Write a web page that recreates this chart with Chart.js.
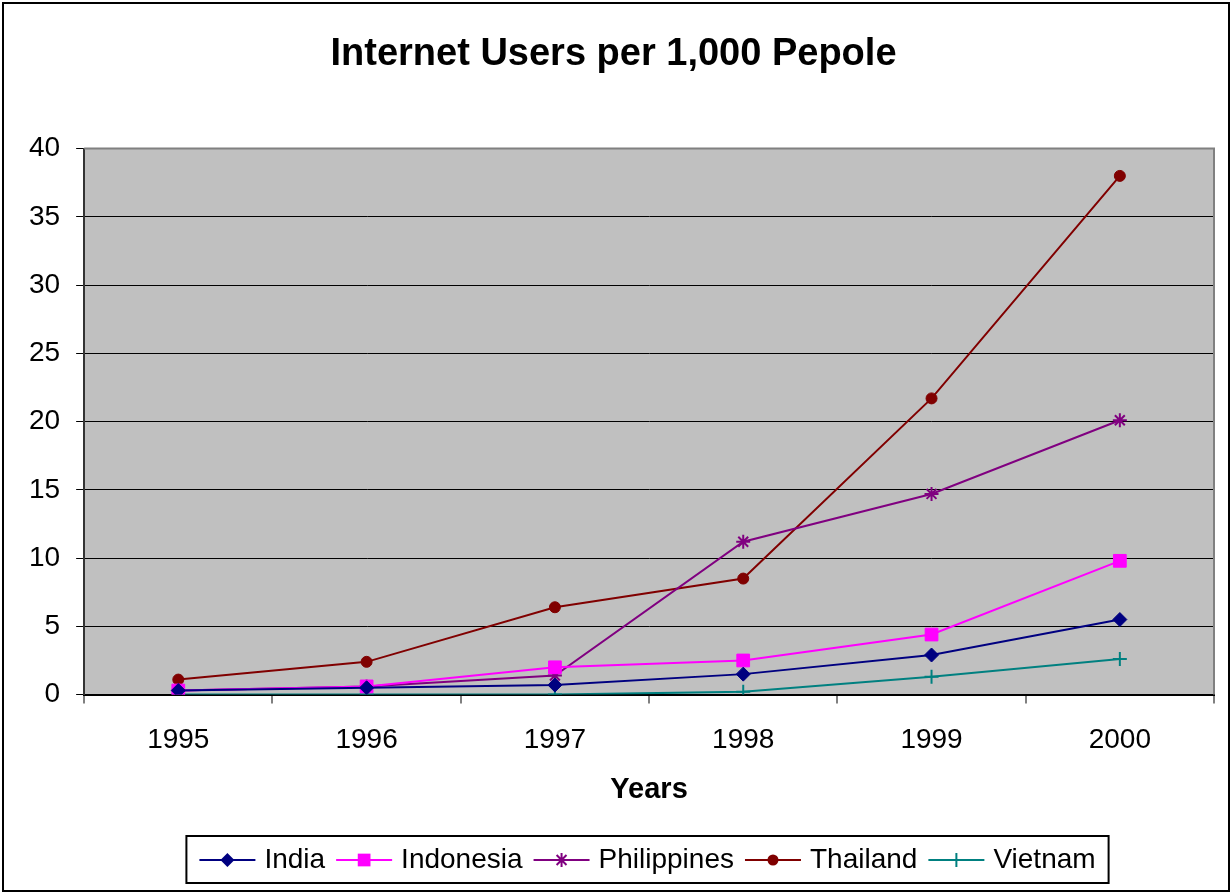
<!DOCTYPE html>
<html>
<head>
<meta charset="utf-8">
<script src="https://cdn.jsdelivr.net/npm/chart.js@4/dist/chart.umd.min.js"></script>
<style>
  html, body { margin: 0; padding: 0; background: #fff; }
  #wrap { position: absolute; left: 2px; top: 2px; width: 1224px; height: 886px; border: 2px solid #000; }
  canvas { display: block; }
</style>
</head>
<body>
<div id="wrap"><canvas id="users-chart" width="1224" height="886"></canvas></div>
<script>
// (per 1,000 people)
var years = ["1995", "1996", "1997", "1998", "1999", "2000"];
var india = [0.3, 0.5, 0.7, 1.5, 2.9, 5.5];
var indonesia = [0.3, 0.6, 2.0, 2.5, 4.4, 9.8];
var philippines = [0.3, 0.6, 1.4, 11.2, 14.7, 20.1];
var thailand = [1.1, 2.4, 6.4, 8.5, 21.7, 38.0];
var vietnam = [0.0, 0.0, 0.0, 0.2, 1.3, 2.6];

var font = "'Liberation Sans', Arial, sans-serif";

function series(label, data, color, style, radius) {
  return {
    label: label,
    data: data,
    borderColor: color,
    backgroundColor: color,
    borderWidth: 2,
    pointStyle: style,
    pointRadius: radius,
    pointBorderWidth: style === "star" || style === "cross" ? 2 : 1,
    pointHoverRadius: radius,
    tension: 0,
  };
}

function drawMarker(ctx, style, x, y, r, color) {
  var s = r * Math.SQRT1_2;
  ctx.fillStyle = color;
  ctx.strokeStyle = color;
  ctx.lineWidth = 2;
  ctx.beginPath();
  if (style === "rectRot") {
    ctx.moveTo(x, y - r); ctx.lineTo(x + r, y); ctx.lineTo(x, y + r); ctx.lineTo(x - r, y);
    ctx.closePath(); ctx.fill();
  } else if (style === "rect") {
    ctx.rect(x - s, y - s, s * 2, s * 2); ctx.fill();
  } else if (style === "circle") {
    ctx.arc(x, y, r, 0, Math.PI * 2); ctx.fill();
  } else if (style === "cross") {
    ctx.moveTo(x - r, y); ctx.lineTo(x + r, y); ctx.moveTo(x, y - r); ctx.lineTo(x, y + r); ctx.stroke();
  } else if (style === "star") {
    ctx.moveTo(x - s, y - s); ctx.lineTo(x + s, y + s);
    ctx.moveTo(x + s, y - s); ctx.lineTo(x - s, y + s);
    ctx.moveTo(x, y - r); ctx.lineTo(x, y + r);
    ctx.moveTo(x - r, y); ctx.lineTo(x + r, y);
    ctx.stroke();
  }
}

var LEGEND_SHIFT = 34; // legend box sits a bit right of centre in the original
var LINE_LEN = 56;

// grey plot area, grey frame, legend line+marker samples and legend box
var plotDecor = {
  id: "plotDecor",
  afterLayout: function (chart) {
    chart.legend.left += LEGEND_SHIFT;
    chart.legend.right += LEGEND_SHIFT;
  },
  beforeDraw: function (chart) {
    var a = chart.chartArea;
    var ctx = chart.ctx;
    ctx.save();
    ctx.fillStyle = "#C0C0C0";
    ctx.fillRect(a.left, a.top, a.right - a.left, a.bottom - a.top);
    ctx.restore();
  },
  afterDraw: function (chart) {
    var a = chart.chartArea;
    var ctx = chart.ctx;
    ctx.save();
    ctx.strokeStyle = "#808080";
    ctx.lineWidth = 2;
    ctx.beginPath();
    ctx.moveTo(a.left, a.top);
    ctx.lineTo(a.right, a.top);
    ctx.lineTo(a.right, a.bottom);
    ctx.stroke();

    var legend = chart.legend;
    var boxes = legend.legendHitBoxes;
    boxes.forEach(function (b, i) {
      var ds = chart.data.datasets[i];
      var cy = b.top + b.height / 2;
      ctx.strokeStyle = ds.borderColor;
      ctx.lineWidth = 2;
      ctx.beginPath();
      ctx.moveTo(b.left, cy);
      ctx.lineTo(b.left + LINE_LEN, cy);
      ctx.stroke();
      drawMarker(ctx, ds.pointStyle, b.left + LINE_LEN / 2, cy, ds.pointRadius, ds.borderColor);
    });

    var first = boxes[0];
    var last = boxes[boxes.length - 1];
    ctx.strokeStyle = "#000";
    ctx.lineWidth = 2;
    var x0 = first.left - 13;
    var x1 = last.left + last.width + 13;
    ctx.strokeRect(x0, legend.top + 1, x1 - x0, legend.height - 2);
    ctx.restore();
  },
};

var ctxUsers = document.getElementById("users-chart").getContext("2d");

var usersChart = new Chart(ctxUsers, {
  type: "line",
  data: {
    labels: years,
    datasets: [
      series("India", india, "#000080", "rectRot", 7),
      series("Indonesia", indonesia, "#FF00FF", "rect", 9),
      series("Philippines", philippines, "#800080", "star", 7),
      series("Thailand", thailand, "#800000", "circle", 5.5),
      series("Vietnam", vietnam, "#008080", "cross", 7),
    ],
  },
  options: {
    responsive: false,
    animation: false,
    layout: { padding: { left: 9, right: 14, top: 0, bottom: 6 } },
    plugins: {
      title: {
        display: true,
        text: "Internet Users per 1,000 Pepole",
        color: "#000",
        font: { family: font, size: 38, weight: "bold" },
        padding: { top: 28, bottom: 71 },
      },
      legend: {
        position: "bottom",
        labels: {
          color: "#000",
          font: { family: font, size: 28 },
          boxWidth: 51,
          boxHeight: 22,
          padding: 11,
          generateLabels: function (chart) {
            return chart.data.datasets.map(function (ds, i) {
              return {
                text: ds.label,
                fillStyle: "rgba(0,0,0,0)",
                strokeStyle: "rgba(0,0,0,0)",
                lineWidth: 0,
                fontColor: "#000",
                datasetIndex: i,
              };
            });
          },
        },
      },
      tooltip: { enabled: false },
    },
    scales: {
      x: {
        offset: true,
        grid: {
          offset: true,
          drawOnChartArea: false,
          drawTicks: true,
          tickLength: 9,
          color: "#808080",
          lineWidth: 2,
        },
        border: { color: "#000", width: 2 },
        ticks: { color: "#000", font: { family: font, size: 28 }, padding: 20 },
        title: {
          display: true,
          text: "Years",
          color: "#000",
          font: { family: font, size: 29, weight: "bold" },
          // tick padding is counted twice in the axis height, so pull the title up
          padding: { top: -5, bottom: 28 },
        },
      },
      y: {
        min: 0,
        max: 40,
        ticks: { stepSize: 5, color: "#000", font: { family: font, size: 28 }, padding: 16 },
        grid: { color: "#000", lineWidth: 1, tickLength: 8, tickColor: "#000" },
        border: { color: "#333", width: 2 },
      },
    },
  },
  plugins: [plotDecor],
});
</script>
</body>
</html>
